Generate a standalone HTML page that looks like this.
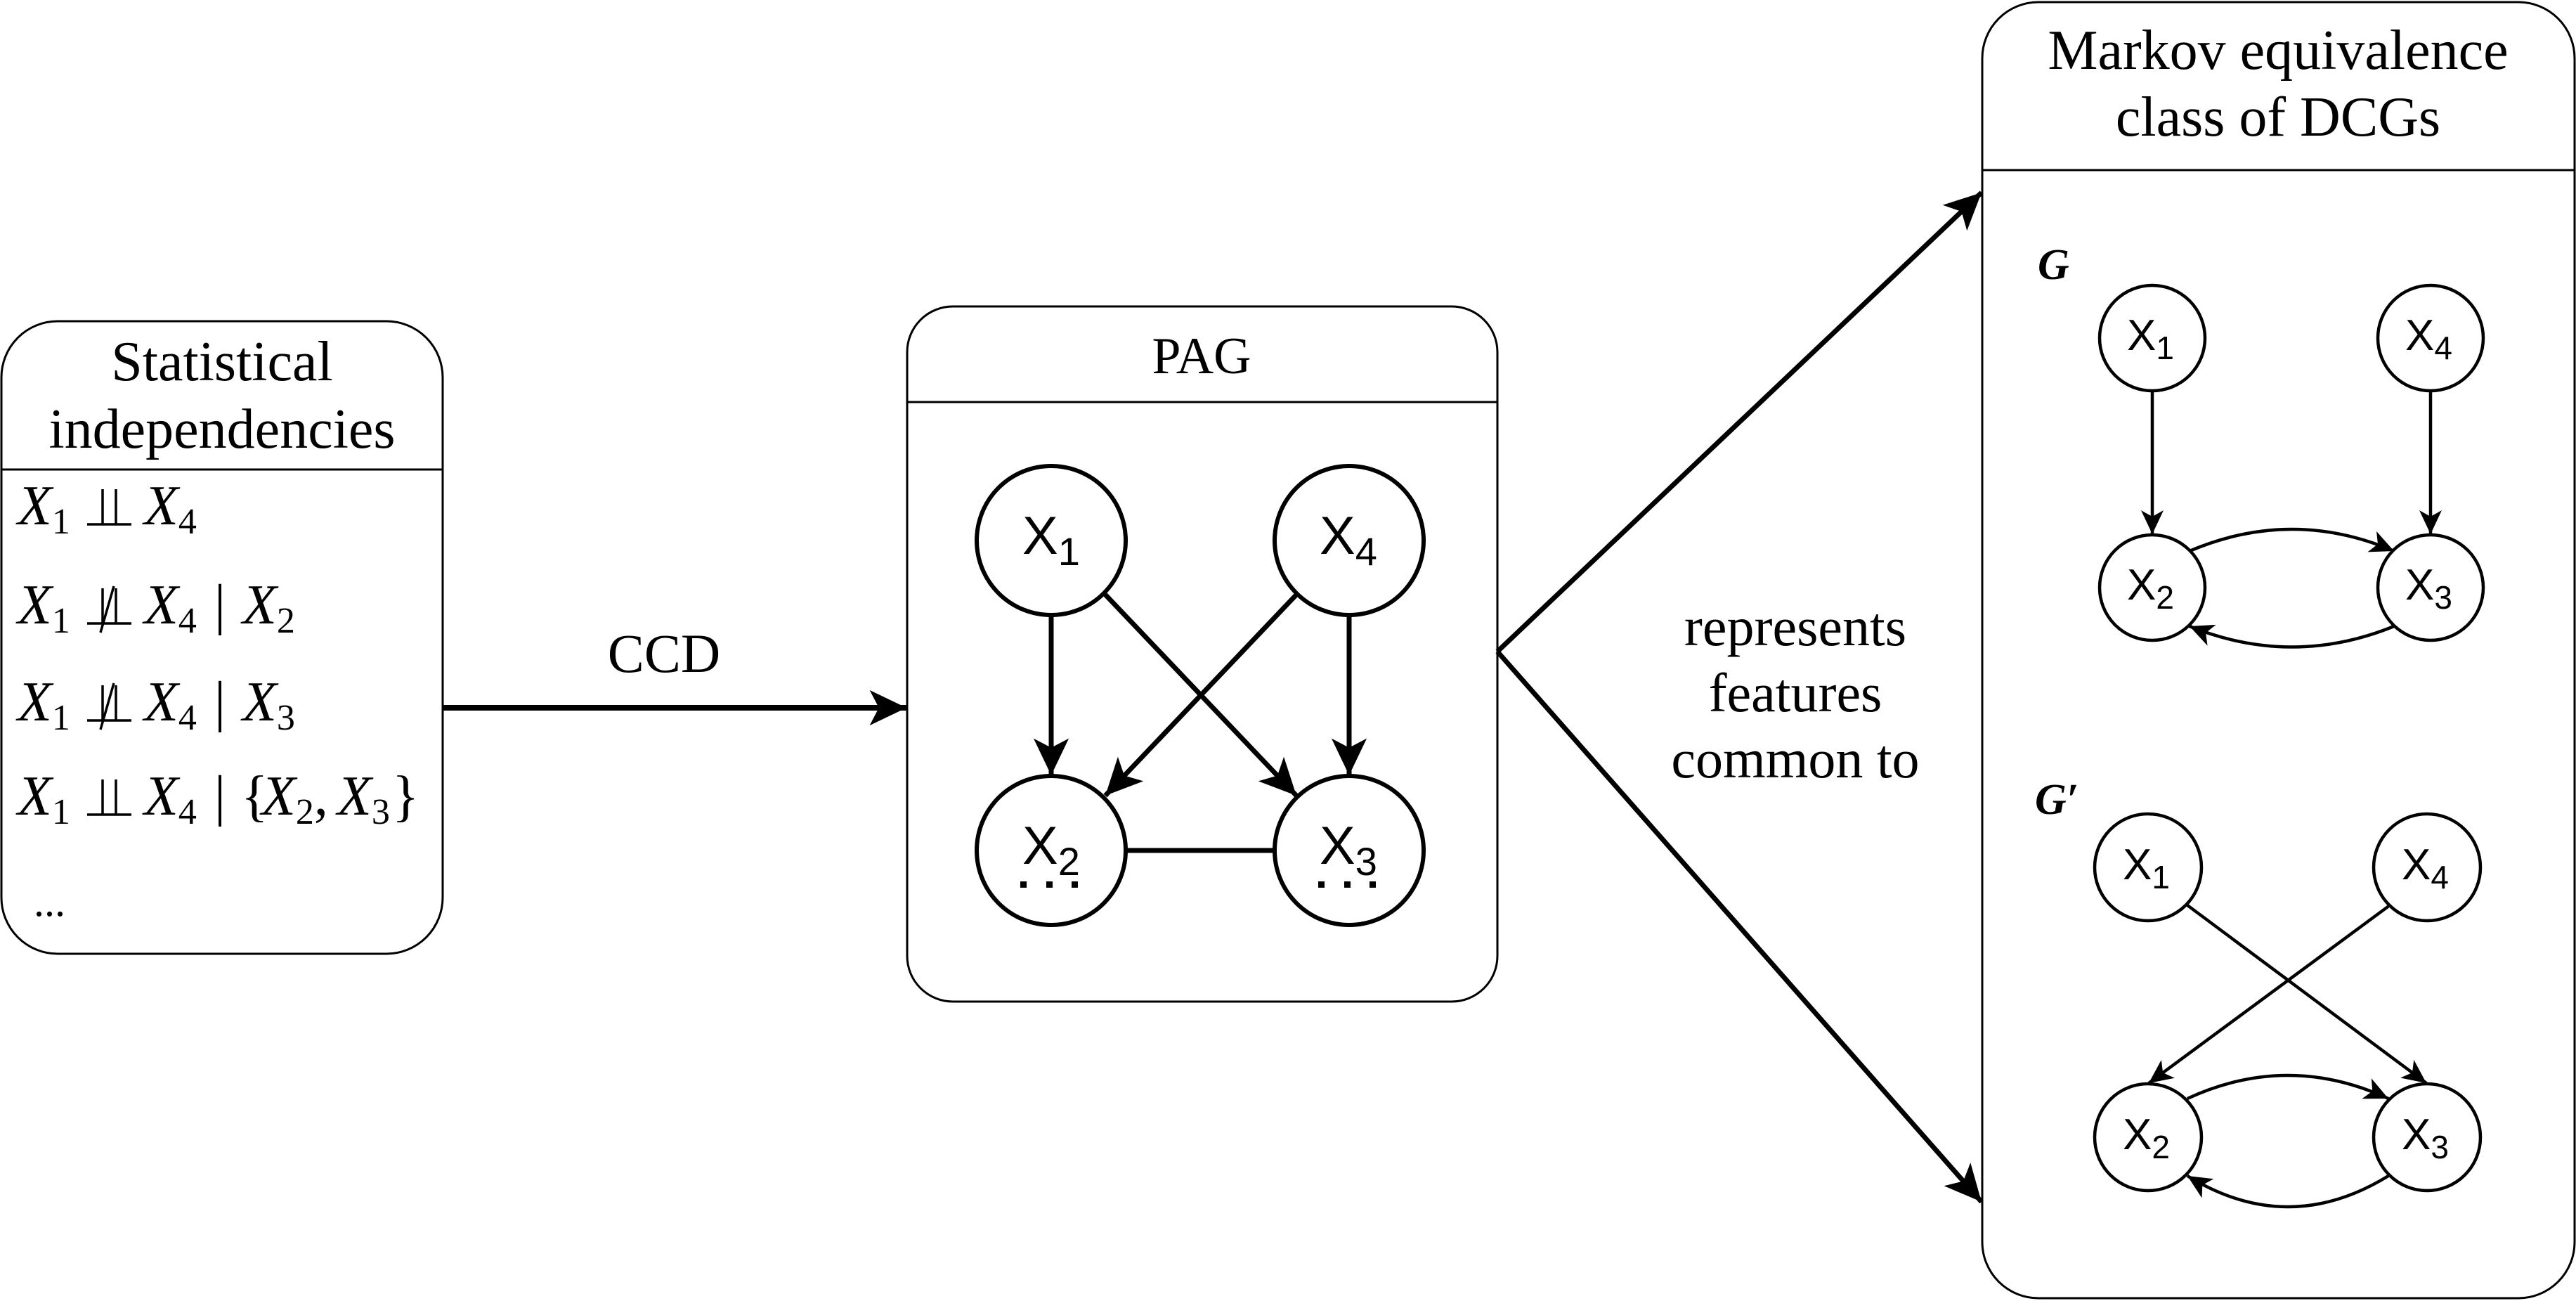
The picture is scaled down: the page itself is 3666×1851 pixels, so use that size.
<!DOCTYPE html>
<html><head><meta charset="utf-8"><style>
html,body{margin:0;padding:0;background:#fff;}
svg{display:block;}
.t{font-family:"Liberation Serif",serif;fill:#000;}
.h{font-family:"Liberation Sans",sans-serif;fill:#000;}
</style></head><body>
<svg width="3666" height="1851" viewBox="0 0 3666 1851" xmlns="http://www.w3.org/2000/svg">
<defs>
<marker id="aL" markerUnits="userSpaceOnUse" markerWidth="60" markerHeight="60" viewBox="-50 -25 55 50" refX="0" refY="0" orient="auto">
<path d="M0,0 L-48,-23 L-36,0 L-48,23 Z" fill="#000"/></marker>
<marker id="aS" markerUnits="userSpaceOnUse" markerWidth="40" markerHeight="40" viewBox="-36 -18 40 36" refX="0" refY="0" orient="auto">
<path d="M0,0 L-34,-16 L-25,0 L-34,16 Z" fill="#000"/></marker>
</defs>

<rect x="2" y="457" width="628" height="900" rx="80" ry="80" fill="none" stroke="#000" stroke-width="3"/>
<line x1="2" y1="668" x2="630" y2="668" stroke="#000" stroke-width="3"/>
<text class="t" x="316" y="541" font-size="80" text-anchor="middle">Statistical</text>
<text class="t" x="316" y="637" font-size="80" text-anchor="middle">independencies</text>

<g class="t" font-size="80" font-style="italic">
<text x="25" y="746">X<tspan font-size="52" font-style="normal" dy="13">1</tspan></text>
<text x="205" y="746">X<tspan font-size="52" font-style="normal" dy="13">4</tspan></text>

<text x="25" y="887">X<tspan font-size="52" font-style="normal" dy="13">1</tspan></text>
<text x="205" y="887">X<tspan font-size="52" font-style="normal" dy="13">4</tspan></text>
<text x="305" y="887" font-style="normal">|</text>
<text x="345" y="887">X<tspan font-size="52" font-style="normal" dy="13">2</tspan></text>

<text x="25" y="1025">X<tspan font-size="52" font-style="normal" dy="13">1</tspan></text>
<text x="205" y="1025">X<tspan font-size="52" font-style="normal" dy="13">4</tspan></text>
<text x="305" y="1025" font-style="normal">|</text>
<text x="345" y="1025">X<tspan font-size="52" font-style="normal" dy="13">3</tspan></text>

<text x="25" y="1159">X<tspan font-size="52" font-style="normal" dy="13">1</tspan></text>
<text x="205" y="1159">X<tspan font-size="52" font-style="normal" dy="13">4</tspan></text>
<text x="305" y="1159" font-style="normal">|</text>
<text x="343" y="1159" font-style="normal">{</text>
<text x="372" y="1159">X<tspan font-size="52" font-style="normal" dy="13">2</tspan><tspan font-style="normal" dy="-13">,</tspan></text>
<text x="480" y="1159">X<tspan font-size="52" font-style="normal" dy="13">3</tspan></text>
<text x="558" y="1159" font-style="normal">}</text>
<text x="48" y="1303" font-style="normal" font-size="60">...</text>
</g>
<g stroke="#000" stroke-width="3.5">
<line x1="124" y1="746" x2="187" y2="746"/><line x1="146" y1="696" x2="146" y2="746"/><line x1="165" y1="696" x2="165" y2="746"/>
<line x1="124" y1="887" x2="187" y2="887"/><line x1="146" y1="837" x2="146" y2="887"/><line x1="165" y1="837" x2="165" y2="887"/><line x1="143" y1="900" x2="162" y2="834"/>
<line x1="124" y1="1025" x2="187" y2="1025"/><line x1="146" y1="975" x2="146" y2="1025"/><line x1="165" y1="975" x2="165" y2="1025"/><line x1="143" y1="1038" x2="162" y2="972"/>
<line x1="124" y1="1159" x2="187" y2="1159"/><line x1="146" y1="1109" x2="146" y2="1159"/><line x1="165" y1="1109" x2="165" y2="1159"/>
</g>

<text class="t" x="945" y="956" font-size="78" text-anchor="middle">CCD</text>
<line x1="630" y1="1007" x2="1290" y2="1007" stroke="#000" stroke-width="8" marker-end="url(#aL)"/>

<rect x="1291" y="436" width="840" height="989" rx="65" ry="65" fill="none" stroke="#000" stroke-width="3"/>
<line x1="1291" y1="572" x2="2131" y2="572" stroke="#000" stroke-width="3"/>
<text class="t" x="1710" y="531" font-size="74" text-anchor="middle">PAG</text>

<g fill="none" stroke="#000" stroke-width="6">
<circle cx="1496" cy="769" r="106"/><circle cx="1920" cy="769" r="106"/>
<circle cx="1496" cy="1210" r="106"/><circle cx="1920" cy="1210" r="106"/>
</g>
<g stroke="#000" stroke-width="7" fill="none">
<line x1="1496" y1="875" x2="1496" y2="1103" marker-end="url(#aL)"/>
<line x1="1920" y1="875" x2="1920" y2="1103" marker-end="url(#aL)"/>
<line x1="1573" y1="846" x2="1845" y2="1132" marker-end="url(#aL)"/>
<line x1="1845" y1="846" x2="1573" y2="1132" marker-end="url(#aL)"/>
<line x1="1602" y1="1210" x2="1814" y2="1210"/>
</g>
<g class="h" font-size="76">
<text x="1455" y="788">X<tspan font-size="56" dy="16">1</tspan></text>
<text x="1878" y="788">X<tspan font-size="56" dy="16">4</tspan></text>
<text x="1455" y="1229">X<tspan font-size="56" dy="16">2</tspan></text>
<text x="1878" y="1229">X<tspan font-size="56" dy="16">3</tspan></text>
</g>
<g fill="#000">
<rect x="1452" y="1254" width="9" height="9"/><rect x="1489" y="1254" width="9" height="9"/><rect x="1525" y="1254" width="9" height="9"/>
<rect x="1876" y="1254" width="9" height="9"/><rect x="1913" y="1254" width="9" height="9"/><rect x="1949" y="1254" width="9" height="9"/>
</g>

<line x1="2131" y1="927" x2="2820" y2="274" stroke="#000" stroke-width="7" marker-end="url(#aL)"/>
<line x1="2131" y1="927" x2="2820" y2="1710" stroke="#000" stroke-width="7" marker-end="url(#aL)"/>
<g class="t" font-size="78" text-anchor="middle">
<text x="2555" y="918">represents</text>
<text x="2555" y="1012">features</text>
<text x="2555" y="1106">common to</text>
</g>

<rect x="2821" y="3" width="843" height="1844" rx="80" ry="80" fill="none" stroke="#000" stroke-width="3"/>
<line x1="2821" y1="242" x2="3664" y2="242" stroke="#000" stroke-width="3"/>
<text class="t" x="3242" y="98" font-size="80" text-anchor="middle">Markov equivalence</text>
<text class="t" x="3242" y="193" font-size="80" text-anchor="middle">class of DCGs</text>

<text class="t" x="2900" y="397" font-size="62" font-weight="bold" font-style="italic">G</text>
<g fill="none" stroke="#000" stroke-width="4.5">
<circle cx="3063" cy="481" r="75"/><circle cx="3459" cy="481" r="75"/>
<circle cx="3063" cy="836" r="75"/><circle cx="3459" cy="836" r="75"/>
</g>
<g fill="none" stroke="#000" stroke-width="4.5">
<line x1="3063" y1="556" x2="3063" y2="760" marker-end="url(#aS)"/>
<line x1="3459" y1="556" x2="3459" y2="760" marker-end="url(#aS)"/>
<path d="M3116,784 Q3262,722 3407,784" marker-end="url(#aS)"/>
<path d="M3407,891 Q3262,950 3116,891" marker-end="url(#aS)"/>
</g>
<g class="h" font-size="62">
<text x="3027" y="498">X<tspan font-size="46" dy="13">1</tspan></text>
<text x="3423" y="498">X<tspan font-size="46" dy="13">4</tspan></text>
<text x="3027" y="853">X<tspan font-size="46" dy="13">2</tspan></text>
<text x="3423" y="853">X<tspan font-size="46" dy="13">3</tspan></text>
</g>

<text class="t" x="2896" y="1158" font-size="62" font-weight="bold" font-style="italic">G′</text>
<g fill="none" stroke="#000" stroke-width="4.5">
<circle cx="3057" cy="1234" r="76"/><circle cx="3454" cy="1234" r="76"/>
<circle cx="3057" cy="1618" r="76"/><circle cx="3454" cy="1618" r="76"/>
</g>
<g fill="none" stroke="#000" stroke-width="4.5">
<line x1="3113" y1="1288" x2="3453" y2="1541" marker-end="url(#aS)"/>
<line x1="3401" y1="1288" x2="3058" y2="1541" marker-end="url(#aS)"/>
<path d="M3113,1563 Q3256,1497 3399,1563" marker-end="url(#aS)"/>
<path d="M3399,1673 Q3256,1761 3113,1673" marker-end="url(#aS)"/>
</g>
<g class="h" font-size="62">
<text x="3021" y="1251">X<tspan font-size="46" dy="13">1</tspan></text>
<text x="3418" y="1251">X<tspan font-size="46" dy="13">4</tspan></text>
<text x="3021" y="1635">X<tspan font-size="46" dy="13">2</tspan></text>
<text x="3418" y="1635">X<tspan font-size="46" dy="13">3</tspan></text>
</g>
</svg>
</body></html>
